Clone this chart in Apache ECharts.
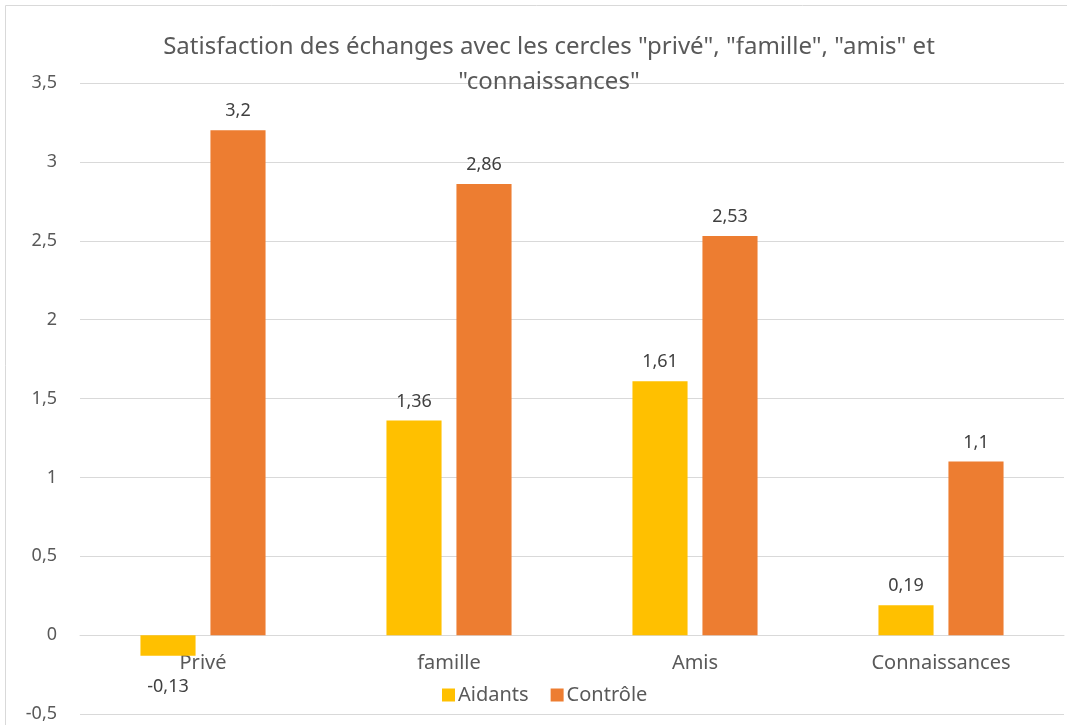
<!DOCTYPE html>
<html>
<head>
<meta charset="utf-8">
<script src="https://cdn.jsdelivr.net/npm/echarts@6/dist/echarts.min.js"></script>
<style>
    html, body { margin: 0; padding: 0; background: #fff; }
    #chart { width: 1067px; height: 725px; }
</style>
</head>
<body>
<div id="chart"></div>
<script>
    const categories = ['Privé', 'famille', 'Amis', 'Connaissances']
    const aidants = [-0.13, 1.36, 1.61, 0.19]
    const controle = [3.2, 2.86, 2.53, 1.1]
    const yTicks = [-0.5, 0, 0.5, 1, 1.5, 2, 2.5, 3, 3.5]

    const fmt = v => String(v).replace('.', ',')
    const font = '"Noto Sans", sans-serif'

    // plot box
    const gridTop = 83, gridBottom = 11
    const plotH = 725 - gridTop - gridBottom
    // move the category axis up to the zero line
    const zeroOffset = -plotH * (0 - yTicks[0]) / (yTicks[yTicks.length - 1] - yTicks[0])

    // negative values get their label under the bar
    const toData = arr => arr.map(v => ({
        value: v,
        label: v < 0 ? { position: 'bottom', distance: 22 } : {}
    }))

    const mychart = echarts.init(document.getElementById('chart'))
    mychart.setOption({
        animation: false,
        textStyle: { fontFamily: font },
        title: {
            text: 'Satisfaction des échanges avec les cercles "privé", "famille", "amis" et\n"connaissances"',
            left: 544,
            top: 25,
            textAlign: 'center',
            textStyle: {
                fontFamily: font,
                fontSize: 24,
                fontWeight: 'normal',
                color: '#595959',
                lineHeight: 35
            }
        },
        graphic: [{
            type: 'rect',
            z: -1,
            shape: { x: 5.5, y: 5.5, width: 1200, height: 900 },
            style: { fill: 'none', stroke: '#d9d9d9', lineWidth: 1 }
        }],
        legend: {
            data: ['Aidants', 'Contrôle'],
            left: 437,
            top: 680,
            itemWidth: 13,
            itemHeight: 13,
            itemGap: 22,
            icon: 'rect',
            textStyle: { fontFamily: font, fontSize: 20, color: '#595959', padding: [0, 0, 0, -2] }
        },
        grid: { left: 80, right: 3, top: gridTop, bottom: gridBottom, containLabel: false, outerBoundsMode: 'none' },
        xAxis: {
            type: 'category',
            data: categories,
            offset: zeroOffset,
            axisLine: { onZero: false, lineStyle: { color: '#d9d9d9', width: 1 } },
            axisTick: { show: false },
            axisLabel: { color: '#595959', fontSize: 20, margin: 18, fontFamily: font }
        },
        yAxis: {
            type: 'value',
            min: yTicks[0],
            max: yTicks[yTicks.length - 1],
            interval: 0.5,
            axisLine: { show: false },
            axisTick: { show: false },
            axisLabel: { color: '#595959', fontSize: 18, margin: 23, formatter: fmt, fontFamily: font },
            splitLine: { lineStyle: { color: '#d9d9d9', width: 1 } }
        },
        series: [
            {
                name: 'Aidants',
                type: 'bar',
                data: toData(aidants),
                barWidth: '22.4%',
                barGap: '27%',
                itemStyle: { color: '#FFC000' },
                label: { show: true, position: 'top', distance: 10, color: '#404040', fontSize: 18, formatter: p => fmt(p.value), fontFamily: font }
            },
            {
                name: 'Contrôle',
                type: 'bar',
                data: toData(controle),
                barWidth: '22.4%',
                barGap: '27%',
                itemStyle: { color: '#ED7D31' },
                label: { show: true, position: 'top', distance: 10, color: '#404040', fontSize: 18, formatter: p => fmt(p.value), fontFamily: font }
            }
        ]
    })
</script>
</body>
</html>
